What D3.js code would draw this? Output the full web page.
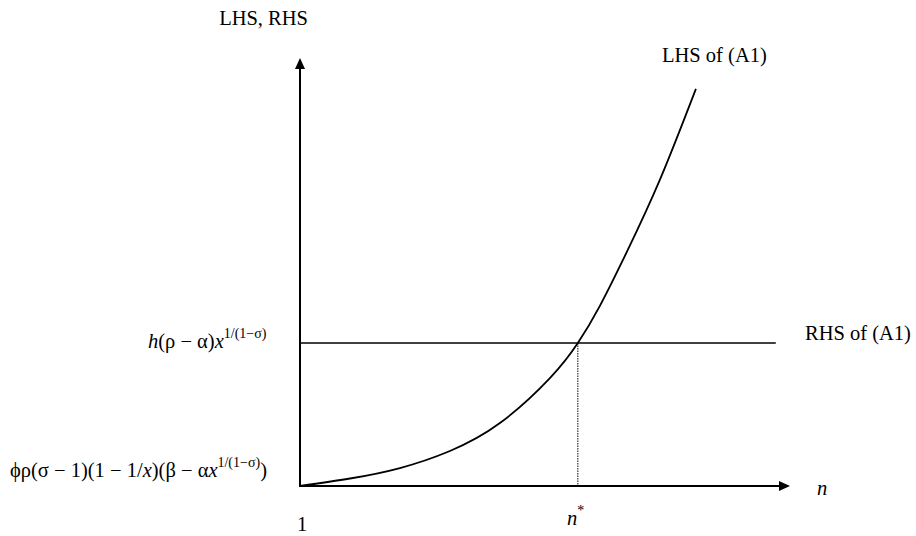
<!DOCTYPE html>
<html><head><meta charset="utf-8">
<script src="https://cdn.jsdelivr.net/npm/d3@7"></script>
<style>
body{margin:0;background:#fff}
text{font-family:"Liberation Serif","Times New Roman",Times,"Nimbus Roman","DejaVu Serif",serif;fill:#000}
</style>
</head><body><svg id="c" width="916" height="536"></svg>
<script>
// ---- data (abstract units, axes run 0..100) ----
const curveN   = [0, 10.2, 20.4, 30.6, 40.8, 51.0, 56.7, 61.2, 66.7, 73.5, 80.8];
const curveLHS = [0, 1.75, 4.2, 8.18, 14.7, 25.2, 33.4, 42.1, 54.7, 71.7, 92.8];
const rhsValue = 33.4;
const rhsExtent = [0, 97.1];
const nStar = 56.7;
const axisExtent = [0, 100];
const labels = {
  yTitle: "LHS, RHS",
  xTitle: "n",
  lhs: "LHS of (A1)",
  rhs: "RHS of (A1)",
  origin: "1"
};

const svg = d3.select("#c");
const x = d3.scaleLinear().domain(axisExtent).range([300, 790]);
const y = d3.scaleLinear().domain(axisExtent).range([486, 58]);

// axes
svg.append("line").attr("x1", x(0)).attr("x2", x(100) - 8).attr("y1", y(0)).attr("y2", y(0))
  .attr("stroke", "#000").attr("stroke-width", 2);
svg.append("line").attr("x1", x(0)).attr("x2", x(0)).attr("y1", y(0) + 1).attr("y2", y(100) + 8)
  .attr("stroke", "#000").attr("stroke-width", 2);
// arrow heads
svg.append("path")
  .attr("d", `M${x(100)},${y(0)} L${x(100) - 11},${y(0) - 5} L${x(100) - 11},${y(0) + 5} Z`)
  .attr("fill", "#000");
svg.append("path")
  .attr("d", `M${x(0)},${y(100)} L${x(0) - 5},${y(100) + 11} L${x(0) + 5},${y(100) + 11} Z`)
  .attr("fill", "#000");

// RHS horizontal line
svg.append("line").attr("x1", x(rhsExtent[0])).attr("x2", x(rhsExtent[1]))
  .attr("y1", y(rhsValue)).attr("y2", y(rhsValue))
  .attr("stroke", "#000").attr("stroke-width", 1.5);

// dotted n* line
svg.append("line").attr("x1", x(nStar)).attr("x2", x(nStar))
  .attr("y1", y(rhsValue)).attr("y2", y(0))
  .attr("stroke", "#222").attr("stroke-width", 1.1).attr("stroke-dasharray", "1.5,1");

// LHS curve
const pts = curveN.map((n, i) => [n, curveLHS[i]]);
svg.append("path").datum(pts)
  .attr("d", d3.line().x(d => x(d[0])).y(d => y(d[1])).curve(d3.curveNatural))
  .attr("fill", "none").attr("stroke", "#000").attr("stroke-width", 1.8);

// texts
const fs = 20.5, sfs = 14, sup = -10;
svg.append("text").attr("x", 308).attr("y", 25).attr("text-anchor", "end")
  .attr("font-size", fs).text(labels.yTitle);
svg.append("text").attr("x", 662).attr("y", 62).attr("font-size", fs).text(labels.lhs);
svg.append("text").attr("x", 805).attr("y", 340).attr("font-size", fs).text(labels.rhs);
svg.append("text").attr("x", 302).attr("y", 531).attr("text-anchor", "middle")
  .attr("font-size", fs).text(labels.origin);
svg.append("text").attr("x", 817).attr("y", 495).attr("font-size", fs)
  .attr("font-style", "italic").text(labels.xTitle);

// n*
const ns = svg.append("text").attr("x", 567).attr("y", 525).attr("font-size", fs);
ns.append("tspan").attr("font-style", "italic").text("n");
ns.append("tspan").attr("dy", sup).attr("font-size", sfs).text("*");

// h(ρ − α)x^{1/(1−σ)}
const t1 = svg.append("text").attr("x", 148).attr("y", 348).attr("font-size", fs);
t1.append("tspan").attr("font-style", "italic").text("h");
t1.append("tspan").text("(ρ − α)");
t1.append("tspan").attr("font-style", "italic").text("x");
t1.append("tspan").attr("dy", sup).attr("font-size", sfs).text("1/(1−σ)");

// φρ(σ − 1)(1 − 1/x)(β − αx^{1/(1−σ)})
const t2 = svg.append("text").attr("x", 10).attr("y", 477).attr("font-size", fs);
t2.append("tspan").text("ϕρ(σ − 1)(1 − 1/");
t2.append("tspan").attr("font-style", "italic").text("x");
t2.append("tspan").text(")(β − α");
t2.append("tspan").attr("font-style", "italic").text("x");
t2.append("tspan").attr("dy", sup).attr("font-size", sfs).text("1/(1−σ)");
t2.append("tspan").attr("dy", -sup).text(")");
</script>
</body></html>
